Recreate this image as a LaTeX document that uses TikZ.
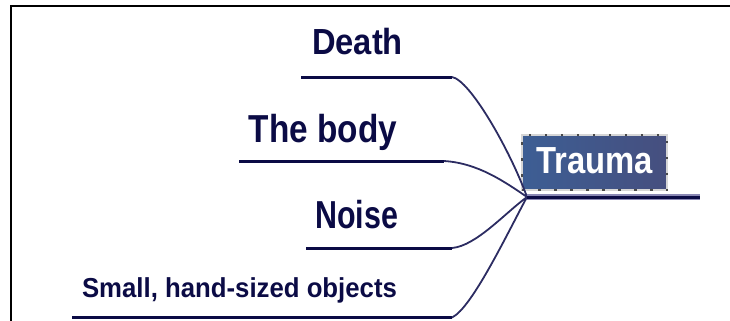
\documentclass[tikz,border=0pt]{standalone}
\usepackage{fontspec}
\setmainfont{Liberation Sans}
\usepackage{graphicx}
\definecolor{navy}{HTML}{0B0B45}
\definecolor{curvecol}{HTML}{2C2C62}
\definecolor{lav}{HTML}{8A88B4}
\definecolor{boxl}{HTML}{3D5E94}
\definecolor{boxr}{HTML}{464F7F}
\definecolor{boxedge}{HTML}{D6D6D6}
\definecolor{dotcol}{HTML}{4A4A4A}
\tikzset{
  lbl/.style={anchor=base, inner sep=0pt, text=navy, font=\bfseries},
  uline/.style={draw=navy, line width=3bp},
  conn/.style={draw=curvecol, line width=1.8bp},
  topicbox/.style={rectangle, left color=boxl, right color=boxr, draw=boxedge,
    line width=1.8bp, minimum width=145bp, minimum height=55bp,
    text height=26bp, text depth=5bp, inner xsep=0pt,
    text=white, font=\bfseries\fontsize{37.7bp}{40bp}\selectfont,
    postaction={draw=dotcol, line width=2bp, dash pattern=on 2.5bp off 13.5bp}},
  frameline/.style={draw=black, line width=2bp}
}
\begin{document}
\begin{tikzpicture}[x=1bp, y=-1bp]
\useasboundingbox (0,0) rectangle (730,320);
% frame
\coordinate (fbl) at (10.5,330);
\coordinate (ftl) at (10.5,5.5);
\coordinate (ftr) at (740,5.5);
\draw[frameline] (fbl) -- (ftl) -- (ftr);
% labels
\node[lbl] (death) at (357.5,54) {\fontsize{36.3bp}{40bp}\selectfont\scalebox{0.90}[1]{Death}};
\node[lbl] (body) at (323,142) {\fontsize{39bp}{42bp}\selectfont\scalebox{0.855}[1]{The body}};
\node[lbl] (noise) at (356.5,228) {\fontsize{39bp}{42bp}\selectfont\scalebox{0.78}[1]{Noise}};
\node[lbl] (small) at (239.5,297) {\fontsize{27.4bp}{30bp}\selectfont\scalebox{0.94}[1]{Small, hand-sized objects}};
% underline coordinates
\coordinate (d1) at (301,77);   \coordinate (d2) at (452,77);
\coordinate (b1) at (239,161);  \coordinate (b2) at (444,161);
\coordinate (n1) at (306,248);  \coordinate (n2) at (452,248);
\coordinate (s1) at (72,317.5); \coordinate (s2) at (452,317.5);
\coordinate (hub) at (527,197);
\coordinate (tend) at (700,197);
% central topic
\node[topicbox] (trauma) at (594.5,162.5) {\scalebox{0.87}[1]{Trauma}};
% underlines
\draw[uline] (d1) -- (d2);
\draw[uline] (b1) -- (b2);
\draw[uline] (n1) -- (n2);
\draw[uline] (s1) -- (s2);
% connectors
\draw[conn] (d2) .. controls (470,80) and (510,150) .. (hub);
\draw[conn] (b2) .. controls (478,163) and (505,182) .. (hub);
\draw[conn] (n2) .. controls (476,246) and (505,213) .. (hub);
\draw[conn] (s2) .. controls (472,308) and (508,232) .. (hub);
% topic underline
\draw[draw=lav, line width=6.5bp] (hub) -- (tend);
\draw[draw=navy, line width=3bp] (hub) -- (tend);
\end{tikzpicture}
\end{document}
